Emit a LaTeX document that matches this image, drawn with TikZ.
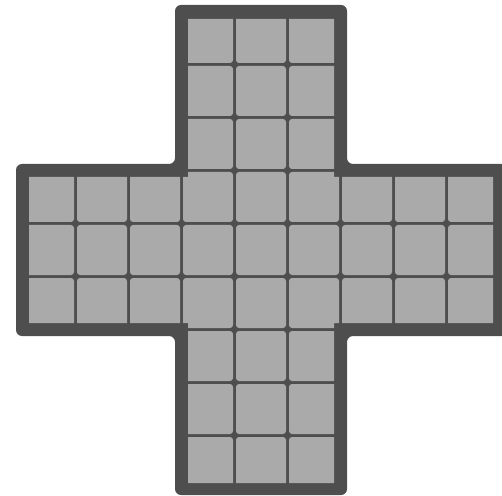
\documentclass[tikz,border=0pt]{standalone}
\usepackage{xcolor}
\usepackage{tikz}
\definecolor{boardDark}{RGB}{78,78,78}
\definecolor{cellGrey}{RGB}{170,170,170}
\tikzset{
    board/.style={fill=boardDark, rounded corners=3pt},
    cell/.style={fill=cellGrey, rounded corners=1.5pt},
}
% grid pitch 53, origin (22.5,11.5), pixel units
\newcommand{\gx}[1]{22.5+53*#1}
\newcommand{\gy}[1]{11.5+53*#1}

\begin{document}
\begin{tikzpicture}[x=0.5pt, y=-0.5pt]
    \useasboundingbox (0,0) rectangle (502,496);

    % Outer frame of the cross
    \fill[board] (175,5) -- (347,5) -- (347,164) -- (508,164) -- (508,336)
        -- (347,336) -- (347,495) -- (175,495) -- (175,336) -- (16,336)
        -- (16,164) -- (175,164) -- cycle;

    \begin{scope}
        \clip (188,19) -- (334,19) -- (334,177) -- (493,177) -- (493,323)
            -- (334,323) -- (334,483) -- (188,483) -- (188,323) -- (29,323)
            -- (29,177) -- (188,177) -- cycle;
        % Vertical arm
        \foreach \c in {3,4,5}
            \foreach \r in {0,...,8}
                \fill[cell] ({\gx{\c}+1.5},{\gy{\r}+1.5}) rectangle ({\gx{\c}+51.5},{\gy{\r}+51.5});
        % Horizontal arm
        \foreach \c in {0,1,2,6,7,8}
            \foreach \r in {3,4,5}
                \fill[cell] ({\gx{\c}+1.5},{\gy{\r}+1.5}) rectangle ({\gx{\c}+51.5},{\gy{\r}+51.5});
    \end{scope}
\end{tikzpicture}
\end{document}
